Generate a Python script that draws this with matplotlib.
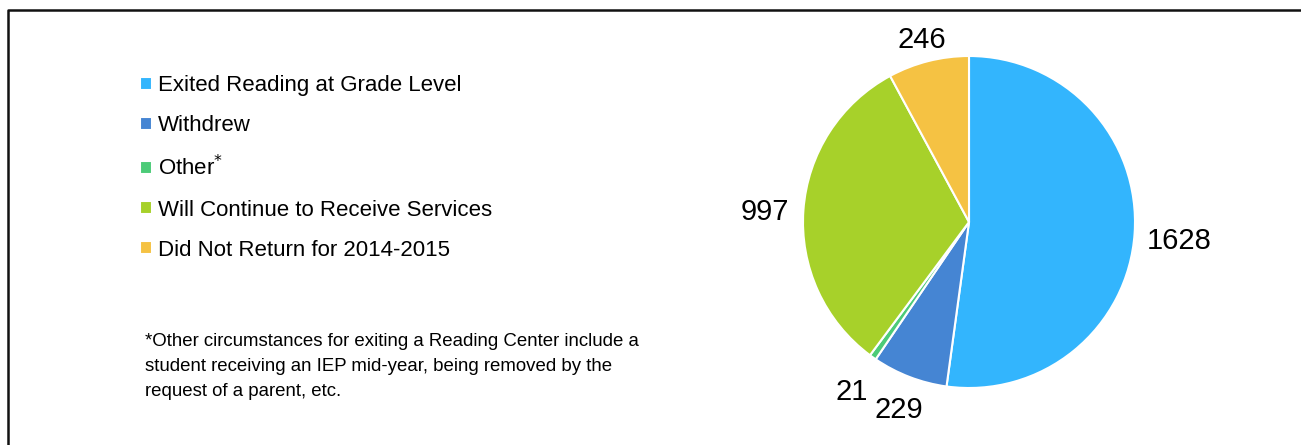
import numpy as np
import matplotlib
matplotlib.use("Agg")
import matplotlib.pyplot as plt
from matplotlib.lines import Line2D

plt.rcParams["font.family"] = ["Liberation Sans", "DejaVu Sans"]

# Reading Center exit status counts
categories = [
    "Exited Reading at Grade Level",
    "Withdrew",
    "Other$^{*}$",
    "Will Continue to Receive Services",
    "Did Not Return for 2014-2015",
]
counts = [1628, 229, 21, 997, 246]
colors = ["#33B5FD", "#4585D3", "#4CCB78", "#A7D12A", "#F5C243"]
# how far out each count label sits (in pie radii)
label_dist = [1.27, 1.18, 1.22, 1.23, 1.16]

footnote = ("*Other circumstances for exiting a Reading Center include a\n"
            "student receiving an IEP mid-year, being removed by the\n"
            "request of a parent, etc.")

W, H = 1301, 445
fig = plt.figure(figsize=(W / 100, H / 100), dpi=100)

# pie axes: centre (969, 222) px, radius 166 px
cx, cy, r = 969, 222, 166
ax = fig.add_axes([(cx - r) / W, (H - cy - r) / H, 2 * r / W, 2 * r / H])
wedges, _ = ax.pie(counts, colors=colors, startangle=90, counterclock=False,
                   wedgeprops=dict(edgecolor="white", linewidth=1.5))
ax.set_xlim(-1, 1)
ax.set_ylim(-1, 1)
ax.set_aspect("equal")
ax.axis("off")

for w, n, d in zip(wedges, counts, label_dist):
    mid = np.deg2rad((w.theta1 + w.theta2) / 2)
    ax.text(d * np.cos(mid), d * np.sin(mid) - 0.03, str(n), ha="center",
            va="center", fontsize=21, color="black", clip_on=False)

# legend
fig.legend(wedges, categories, loc="upper left",
           bbox_to_anchor=(140 / W, 1 - 75 / H), frameon=False,
           fontsize=16, handlelength=0.52, handleheight=0.52,
           handletextpad=0.27, labelspacing=0.86, borderpad=0,
           borderaxespad=0)

fig.text(145 / W, 1 - 333 / H, footnote, fontsize=13.4, va="top", ha="left",
         linespacing=1.6)

# frame around the chart (top and left edges visible)
fig.add_artist(Line2D([8 / W, 8 / W, 1.0], [0.0, 1 - 10 / H, 1 - 10 / H],
                      transform=fig.transFigure, color="#111111", linewidth=1.8))

fig.savefig("out.png", dpi=100, facecolor="white")
